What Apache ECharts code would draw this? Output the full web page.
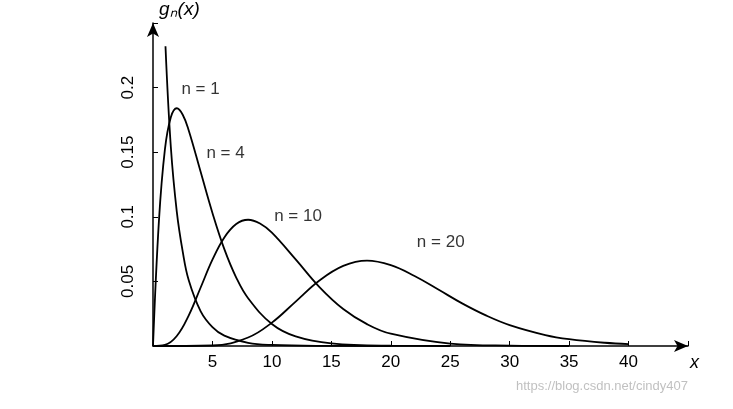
<!DOCTYPE html>
<html>
<head>
<meta charset="utf-8">
<script src="https://cdn.jsdelivr.net/npm/echarts@6/dist/echarts.min.js"></script>
<style>html,body{margin:0;padding:0;background:#fff}#chart{width:733px;height:409px}</style>
</head>
<body>
<div id="chart"></div>
<script>
// values: [x, g_n(x)]
const n1 = [[1.05,0.232],[1.5,0.154],[2,0.104],[2.5,0.073],[3,0.051],[4,0.027],[5,0.0146],[6,0.008],[8,0.0025],[10,0.0008],[14,0.0001],[20,0]];
const n4 = [[0,0],[0.5,0.097],[1,0.152],[1.5,0.177],[2,0.184],[2.5,0.179],[3,0.167],[4,0.135],[5,0.103],[6,0.075],[7,0.053],[8,0.037],[10,0.017],[12,0.0074],[15,0.002],[20,0.0002],[25,0]];
const n10 = [[0,0],[1,0.0008],[2,0.0077],[3,0.0235],[4,0.0451],[5,0.0668],[6,0.084],[7,0.0944],[8,0.0977],[9,0.0948],[10,0.0877],[12,0.067],[14,0.0456],[16,0.0286],[18,0.0169],[20,0.0095],[25,0.0019],[30,0.0003],[35,0]];
const n20 = [[0,0],[5,0.0004],[8,0.0066],[10,0.0181],[12,0.0344],[14,0.0507],[16,0.062],[18,0.0661],[20,0.0626],[22,0.0542],[24,0.0437],[26,0.033],[28,0.0237],[30,0.0162],[33,0.0085],[35,0.0053],[38,0.0025],[40,0.0015]];
const curveLabels = [['n = 1',4.0,0.199],['n = 4',6.1,0.149],['n = 10',12.2,0.1],['n = 20',24.2,0.08]];
const xTicks = [5,10,15,20,25,30,35,40];
const yTicks = [0.05,0.1,0.15,0.2];

const chart = echarts.init(document.getElementById('chart'));
const font = 'Liberation Sans, Arial, sans-serif';
const curves = [n1, n4, n10, n20];
const series = curves.map(function (d) {
  return {
    type: 'line', data: d, smooth: 0.4, showSymbol: false,
    lineStyle: { color: '#000', width: 1.8 }
  };
});
// curve names as text on the plot
series.push({
  type: 'scatter', symbolSize: 1, itemStyle: { color: 'rgba(0,0,0,0)' },
  data: curveLabels.map(function (l) { return { value: [l[1], l[2]], name: l[0] }; }),
  label: { show: true, position: 'inside', formatter: '{b}', color: '#000', fontSize: 17, fontFamily: font }
});
chart.setOption({
  animation: false,
  grid: { left: 153, right: 45, top: 20, bottom: 63 },
  xAxis: {
    type: 'value', min: 0, max: 45, interval: 5,
    name: 'x', nameGap: 2, nameLocation: 'end',
    nameTextStyle: { fontStyle: 'italic', fontSize: 18, color: '#000', fontFamily: font, verticalAlign: 'top', padding: [8, 0, 0, 0] },
    axisLine: { lineStyle: { color: '#000', width: 1.5 }, symbol: ['none', 'arrow'], symbolSize: [9, 14] },
    axisTick: { inside: true, length: 5, lineStyle: { color: '#000' } },
    axisLabel: { color: '#000', fontSize: 17, fontFamily: font, formatter: function (v) { return xTicks.indexOf(v) >= 0 ? v : ''; } },
    splitLine: { show: false }
  },
  yAxis: {
    type: 'value', min: 0, max: 0.25, interval: 0.05,
    name: 'gₙ(x)', nameGap: 4,
    nameTextStyle: { fontStyle: 'italic', fontSize: 19, color: '#000', fontFamily: font, align: 'left', padding: [0, 0, 0, 6] },
    axisLine: { lineStyle: { color: '#000', width: 1.5 }, symbol: ['none', 'arrow'], symbolSize: [9, 14] },
    axisTick: { inside: true, length: 5, lineStyle: { color: '#000' } },
    axisLabel: { color: '#000', fontSize: 17, fontFamily: font, rotate: 90, margin: 16,
      formatter: function (v) { return yTicks.some(function (t) { return Math.abs(t - v) < 1e-9; }) ? String(+v.toFixed(2)) : ''; } },
    splitLine: { show: false }
  },
  graphic: [{ type: 'text', right: 45, bottom: 16,
    style: { text: 'https://blog.csdn.net/cindy407', fill: 'rgba(150,150,150,0.6)', fontSize: 13, fontFamily: font } }],
  series: series
});
</script>
</body>
</html>
